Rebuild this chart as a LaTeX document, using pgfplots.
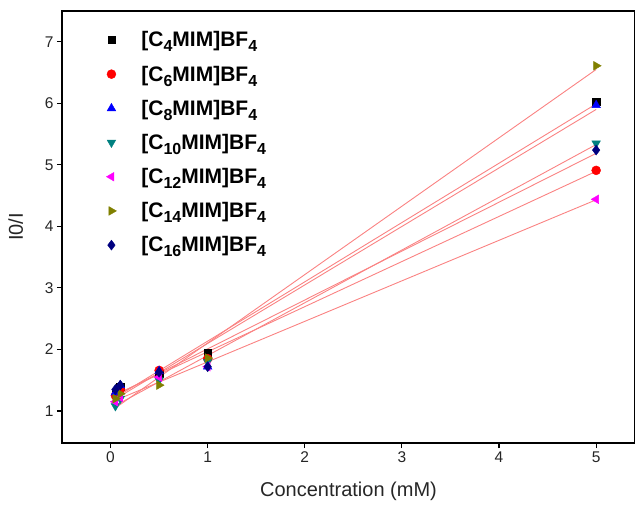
\documentclass[border=0pt]{standalone}
\usepackage{pgfplots}
\pgfplotsset{compat=1.18}
\usepackage{fontspec}
\setmainfont{Liberation Sans}
\definecolor{cOlive}{RGB}{128,128,0}
\definecolor{cTeal}{RGB}{0,128,128}
\definecolor{cNavy}{RGB}{0,0,128}
\definecolor{cMag}{RGB}{255,0,255}
\definecolor{cBlue}{RGB}{0,0,255}
\definecolor{cRed}{RGB}{255,0,0}
\definecolor{fitline}{RGB}{250,130,130}
\newcommand\sub[1]{\raisebox{-0.45ex}{\fontsize{16bp}{16bp}\selectfont\bfseries #1}}
\newcommand\lab[1]{\fontsize{21bp}{22bp}\selectfont\bfseries [C\sub{#1}MIM]BF\sub{4}}
\begin{document}
\begin{tikzpicture}
\begin{axis}[
  scale only axis,
  width=573bp, height=432bp,
  xmin=-0.5, xmax=5.4, ymin=0.48, ymax=7.5,
  xtick={0,1,2,3,4,5}, ytick={1,2,3,4,5,6,7},
  tick align=outside, xtick pos=bottom, ytick pos=left,
  major tick length=5bp,
  tick style={line width=1.1bp, black},
  axis line style={line width=1.3bp},
  /pgf/number format/assume math mode=true,
  ticklabel style={font=\fontsize{15.5bp}{16bp}\selectfont, text=black!85},
  xlabel={Concentration (mM)}, ylabel={I0/I},
  label style={font=\fontsize{20bp}{21bp}\selectfont, text=black!85},
  xlabel style={yshift=-13bp},
  ylabel style={yshift=15bp},
  legend style={draw=none, fill=none, at={(0.072,0.962)}, anchor=north west,
    row sep=13.5bp, legend cell align=left,
    /tikz/every odd column/.append style={column sep=23bp}},
  clip=false,
]
% fit lines
\addplot[forget plot, fitline, line width=0.9bp] coordinates {(0.05,1.22) (5,5.99)};
\addplot[forget plot, fitline, line width=0.9bp] coordinates {(0.05,1.266) (5,4.895)};
\addplot[forget plot, fitline, line width=0.9bp] coordinates {(0.05,1.195) (5,5.90)};
\addplot[forget plot, fitline, line width=0.9bp] coordinates {(0.05,1.088) (5,5.33)};
\addplot[forget plot, fitline, line width=0.9bp] coordinates {(0.05,1.173) (5,4.432)};
\addplot[forget plot, fitline, line width=0.9bp] coordinates {(0.05,1.05) (5,6.55)};
\addplot[forget plot, fitline, line width=0.9bp] coordinates {(0.05,1.255) (5,5.187)};
% data
\addplot[only marks, mark=square*, mark size=3.6bp, black] coordinates {(0.05,1.30) (0.1,1.40) (0.5,1.60) (1,1.94) (5,6.03)};
\addlegendentry{\lab{4}}
\addplot[only marks, mark=*, mark size=4.5bp, cRed] coordinates {(0.05,1.25) (0.1,1.35) (0.5,1.66) (1,1.85) (5,4.91)};
\addlegendentry{\lab{6}}
\addplot[only marks, mark=triangle*, mark size=5bp, cBlue] coordinates {(0.05,1.30) (0.1,1.42) (0.5,1.65) (1,1.72) (5,5.97)};
\addlegendentry{\lab{8}}
\addplot[only marks, mark=triangle*, mark size=5bp, mark options={rotate=180}, cTeal] coordinates {(0.05,1.08) (0.1,1.20) (0.5,1.50) (1,1.80) (5,5.35)};
\addlegendentry{\lab{10}}
\addplot[only marks, mark=triangle*, mark size=5bp, mark options={rotate=90}, cMag] coordinates {(0.05,1.15) (0.1,1.22) (0.5,1.55) (1,1.72) (5,4.44)};
\addlegendentry{\lab{12}}
\addplot[only marks, mark=triangle*, mark size=5bp, mark options={rotate=-90}, cOlive] coordinates {(0.05,1.20) (0.1,1.28) (0.5,1.42) (1,1.86) (5,6.61)};
\addlegendentry{\lab{14}}
\addplot[only marks, mark=diamond*, mark size=5bp, cNavy] coordinates {(0.05,1.35) (0.1,1.42) (0.5,1.63) (1,1.72) (5,5.24)};
\addlegendentry{\lab{16}}
\end{axis}
\pgfresetboundingbox
\useasboundingbox ([shift={(-62bp,-62bp)}]current axis.south west) rectangle ([shift={(0bp,11bp)}]current axis.north east);
\end{tikzpicture}
\end{document}
